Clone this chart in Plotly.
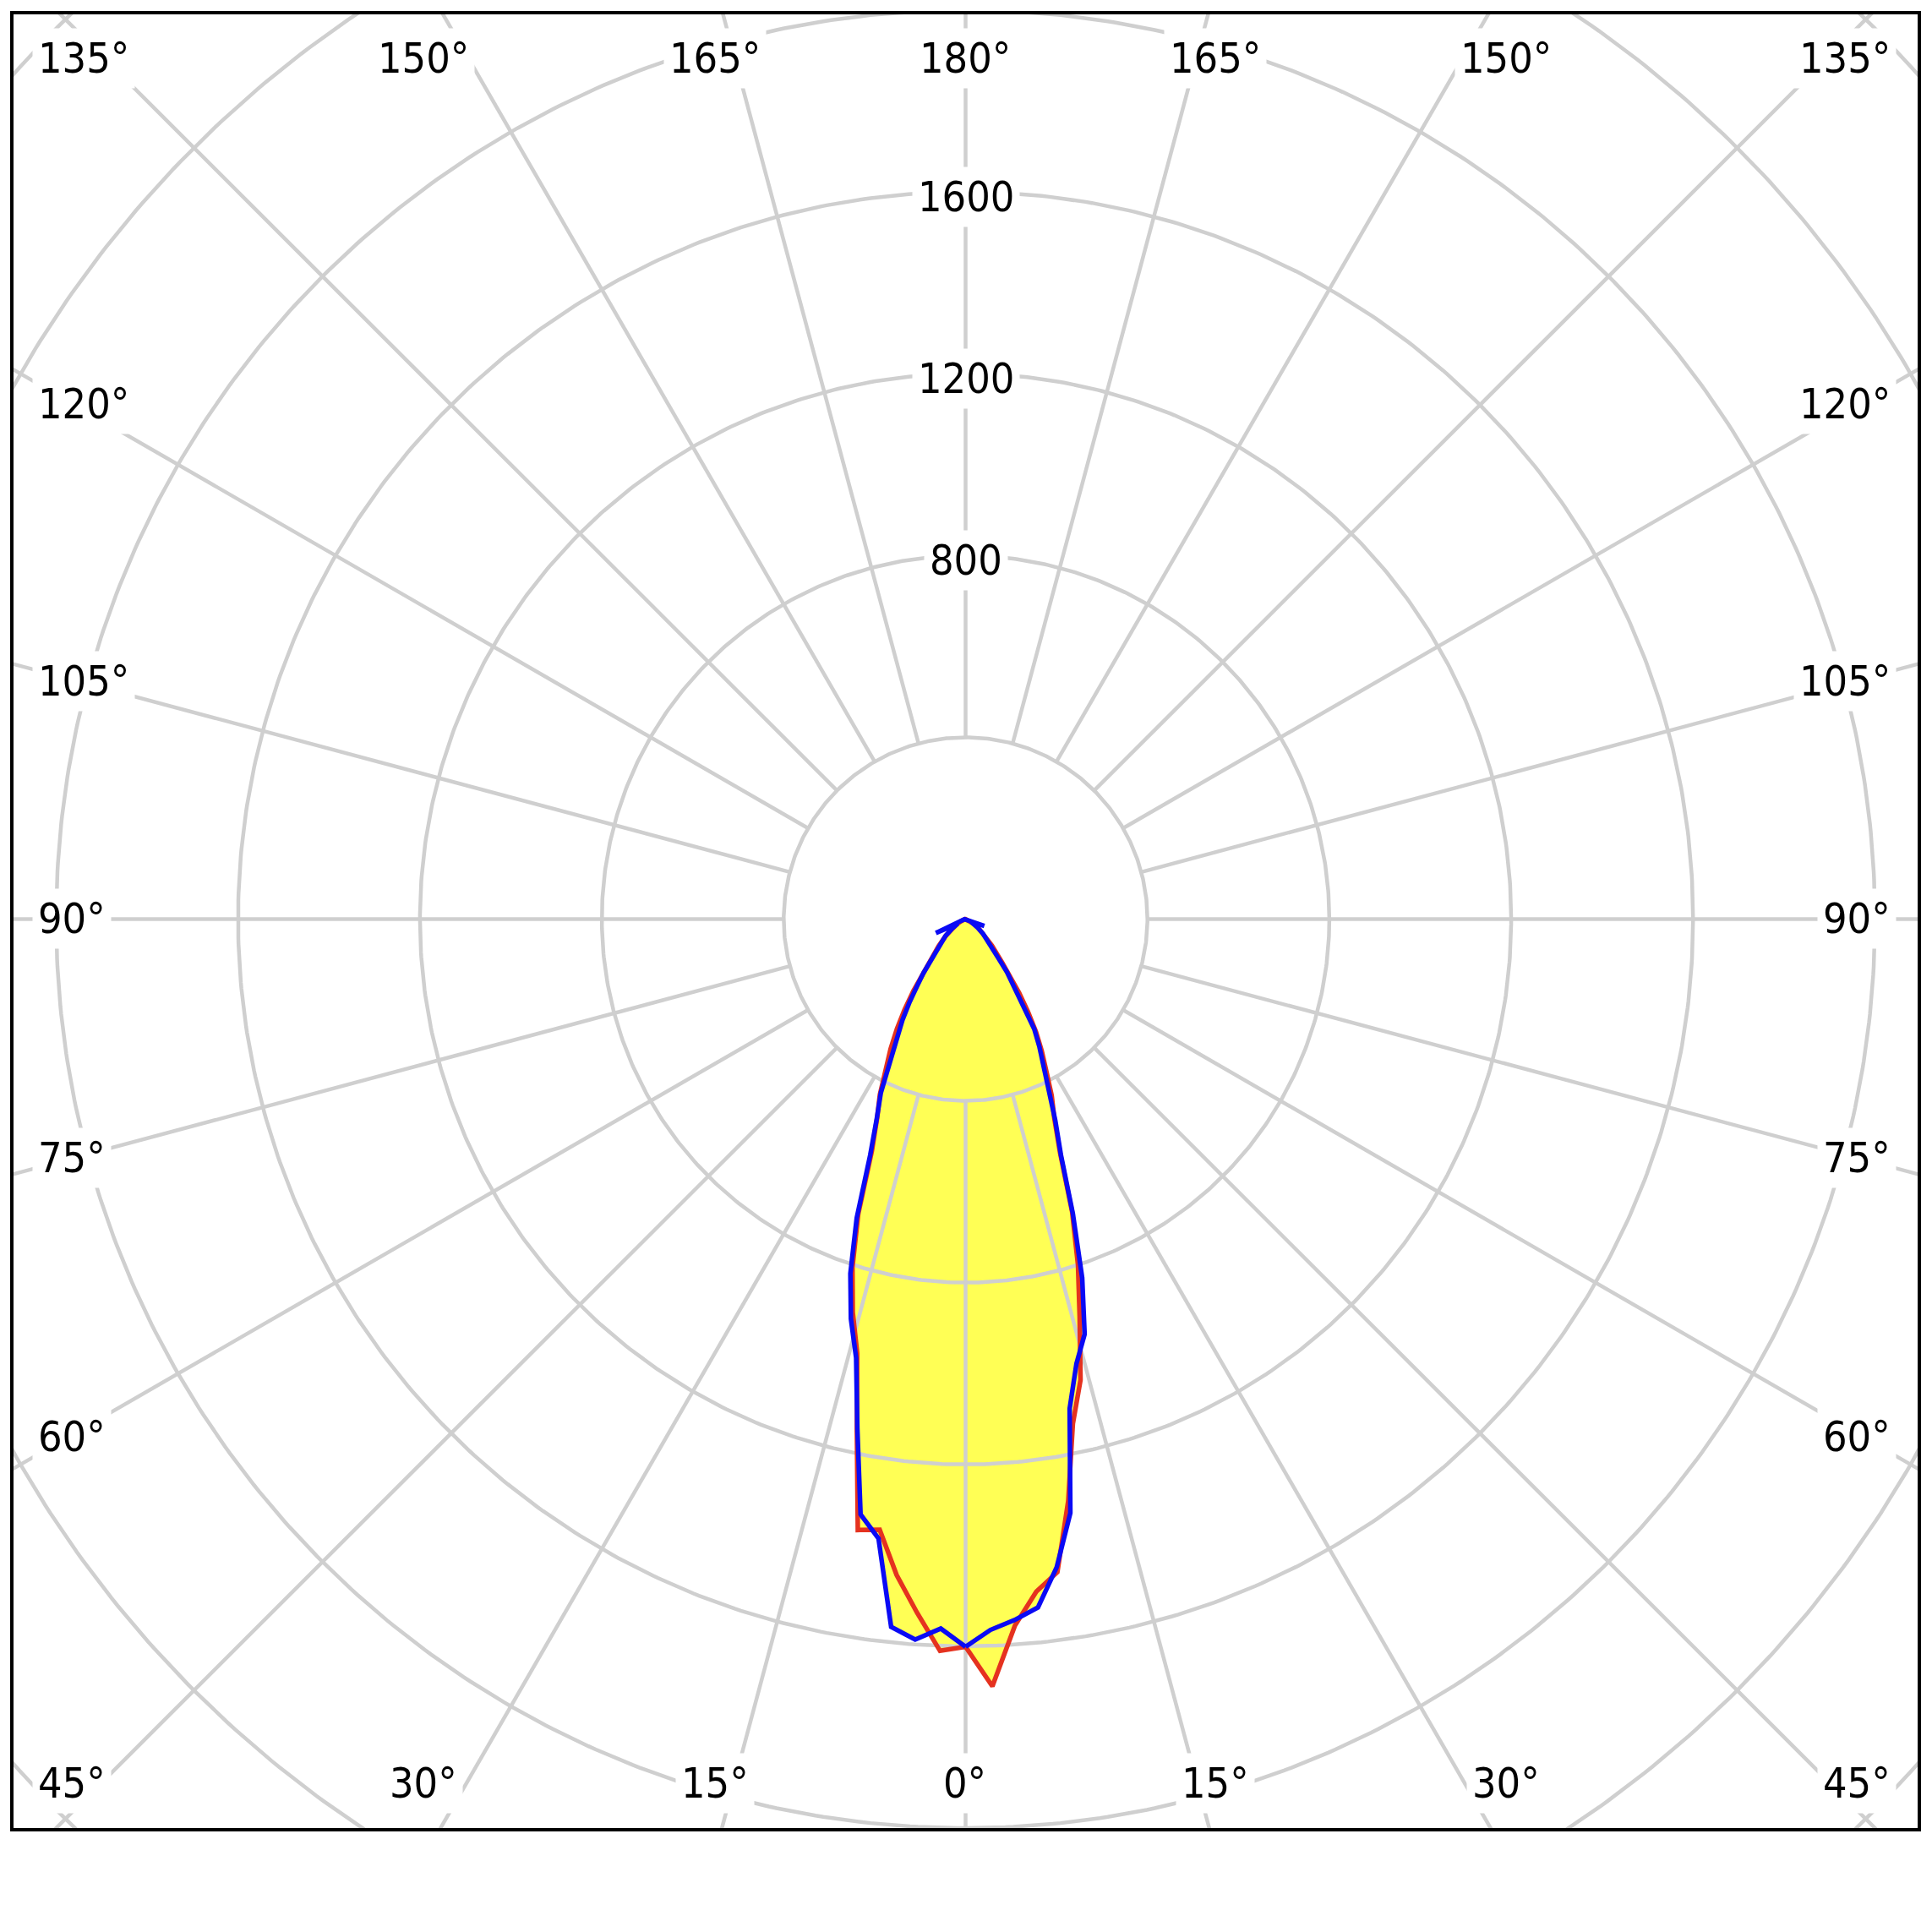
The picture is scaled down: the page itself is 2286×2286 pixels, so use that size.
import numpy as np
import plotly.graph_objects as go

# gamma angles (deg from nadir) and luminous intensity (cd) per half-plane
angles = [0, 2, 4, 6, 8, 10, 12, 14, 16, 18, 20, 22, 24, 26, 28, 30, 32, 34, 36, 38, 40,
          45, 50, 55, 60, 65, 70, 75, 80, 85, 90]
red_c0 = [1601, 1689, 1558, 1488, 1451, 1300, 1135, 1045, 910, 800, 685, 555, 480, 432, 378,
          335, 292, 245, 200, 162, 126, 82, 55, 35, 22, 12, 7, 4, 2, 1, 0]
red_c180 = [1601, 1611, 1530, 1451, 1357, 1365, 1150, 985, 900, 805, 690, 550, 478, 430, 375,
            330, 285, 240, 195, 160, 124, 84, 56, 36, 22, 12, 7, 4, 2, 1, 0]
blue_c90 = [1601, 1565, 1546, 1523, 1440, 1327, 1101, 1008, 950, 830, 690, 560, 485, 420, 362,
            325, 285, 225, 185, 148, 112, 75, 50, 32, 20, 12, 44, 4, 2, 1, 0]
blue_c270 = [1601, 1562, 1589, 1566, 1376, 1330, 1145, 995, 915, 820, 700, 560, 480, 425, 358,
             300, 262, 220, 180, 150, 118, 78, 58, 36, 20, 72, 7, 4, 2, 1, 0]

circle_values = [400, 800, 1200, 1600, 2000, 2400, 2800]
radial_tick_values = [800, 1200, 1600]
spoke_angles = list(range(0, 360, 15))

top_labels = ["135°", "150°", "165°", "180°", "165°", "150°", "135°"]
side_labels = ["120°", "105°", "90°", "75°", "60°"]
bottom_labels = ["45°", "30°", "15°", "0°", "15°", "30°", "45°"]

# layout: frame of the plot in the 2286 canvas (page body adds an 8px offset)
W = H = 2286
BODY = 8
FRAME_L, FRAME_R, FRAME_T, FRAME_B = 14, 2271, 14.6, 2165
L, T = FRAME_L - BODY, FRAME_T - BODY
R, B = W - (FRAME_R - BODY), H - (FRAME_B - BODY)
# pixel positions of the angle labels (relative to the page)
row_x = [38, 501, 846, 1141.5, 1437.6, 1782, 2244]
top_y, bottom_y = 68.5, 2110
side_y = [478, 806, 1087, 1370, 1700]
X_RANGE = [-2097.6, 2097.6]
Y_RANGE = [-2003.7, 1994.4]

FONT = "DejaVu Sans Condensed, DejaVu Sans, sans-serif"
GRID = "#cfcfcf"


def half_curve(right, left):
    th = np.radians(angles)
    r_right = np.array(right, float)
    r_left = np.array(left, float)[::-1]
    th_left = th[::-1]
    x = np.concatenate([r_right * np.sin(th), -r_left * np.sin(th_left)])
    y = np.concatenate([-r_right * np.cos(th), -r_left * np.cos(th_left)])
    return x, y


def px_to_paper(px, py):
    return (px - FRAME_L) / (FRAME_R - FRAME_L), (FRAME_B - py) / (FRAME_B - FRAME_T)


fig = go.Figure()

red_x, red_y = half_curve(red_c0, red_c180)
blue_x, blue_y = half_curve(blue_c90, blue_c270)

# yellow fill
for xs, ys in [(red_x, red_y), (blue_x, blue_y)]:
    fig.add_trace(go.Scatter(x=xs, y=ys, mode="lines", fill="toself",
                             fillcolor="#ffff55", line=dict(width=0),
                             hoverinfo="skip", showlegend=False))

# grid circles
t = np.linspace(0, 2 * np.pi, 721)
cx, cy = [], []
for r in circle_values:
    cx += list(r * np.cos(t)) + [None]
    cy += list(r * np.sin(t)) + [None]
fig.add_trace(go.Scatter(x=cx, y=cy, mode="lines", line=dict(color=GRID, width=4.5),
                         hoverinfo="skip", showlegend=False))

# grid spokes
sx, sy = [], []
for a in spoke_angles:
    ar = np.radians(a)
    sx += [400 * np.sin(ar), 3200 * np.sin(ar), None]
    sy += [-400 * np.cos(ar), -3200 * np.cos(ar), None]
fig.add_trace(go.Scatter(x=sx, y=sy, mode="lines", line=dict(color=GRID, width=4.5),
                         hoverinfo="skip", showlegend=False))

fig.add_trace(go.Scatter(x=red_x, y=red_y, mode="lines",
                         line=dict(color="#e5321f", width=5.5),
                         hoverinfo="skip", showlegend=False))
fig.add_trace(go.Scatter(x=blue_x, y=blue_y, mode="lines",
                         line=dict(color="#0a0af5", width=5.5),
                         hoverinfo="skip", showlegend=False))

ann = dict(showarrow=False, font=dict(family=FONT, size=50, color="black"),
           bgcolor="white", borderpad=6)

for v in radial_tick_values:
    fig.add_annotation(x=0, y=v, xref="x", yref="y", text=str(v), yshift=-6, **ann)


def add_label(text, px, py, anchor):
    xp, yp = px_to_paper(px, py)
    fig.add_annotation(x=xp, y=yp, xref="paper", yref="paper", text=text,
                       xanchor=anchor, yanchor="middle", **ann)


for i, (tt, bt) in enumerate(zip(top_labels, bottom_labels)):
    anchor = "left" if i == 0 else ("right" if i == len(row_x) - 1 else "center")
    add_label(tt, row_x[i], top_y, anchor)
    add_label(bt, row_x[i], bottom_y, anchor)

for txt, py in zip(side_labels, side_y):
    add_label(txt, row_x[0], py, "left")
    add_label(txt, row_x[-1], py, "right")

fig.add_shape(type="rect", xref="paper", yref="paper", x0=0, x1=1, y0=0, y1=1,
              line=dict(color="black", width=4), layer="above")

fig.update_layout(
    width=W, height=H,
    margin=dict(l=L, r=R, t=T, b=B),
    paper_bgcolor="white", plot_bgcolor="white",
    xaxis=dict(range=X_RANGE, visible=False, fixedrange=True),
    yaxis=dict(range=Y_RANGE, visible=False, fixedrange=True),
)

fig.write_html("out.html")
